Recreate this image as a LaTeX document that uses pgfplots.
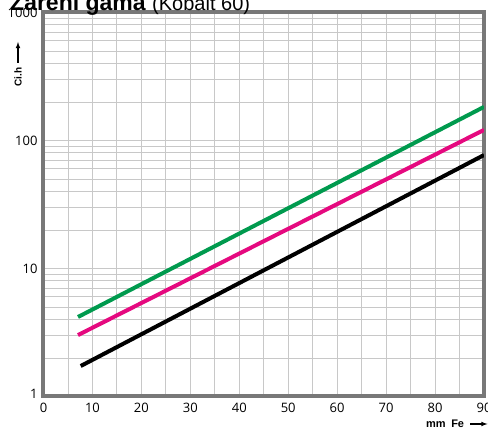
\documentclass[border=0pt]{standalone}
\usepackage{pgfplots}
\pgfplotsset{compat=1.18}
\usepackage{fontspec}
\setmainfont{Open Sans}
\newfontfamily\arial{Liberation Sans}
\definecolor{cgreen}{HTML}{009A4E}
\definecolor{cpink}{HTML}{E5097F}
\definecolor{frame}{HTML}{787878}
\definecolor{gridc}{HTML}{C8C8C8}
\begin{document}
\begin{tikzpicture}[x=1pt,y=1pt]
\begin{axis}[
    at={(0,0)}, anchor=south west,
    scale only axis, width=440.5pt, height=384pt,
    xmin=0, xmax=90,
    ymode=log, ymin=1, ymax=1000,
    xtick={0,10,20,30,40,50,60,70,80,90},
    minor xtick={5,15,25,35,45,55,65,75,85},
    ytick={1,10,100,1000},
    yticklabels={\raisebox{6pt}{1},10,100,\raisebox{-4.5pt}{1000}},
    minor ytick={2,3,4,5,6,7,8,9,20,30,40,50,60,70,80,90,200,300,400,500,600,700,800,900},
    grid=both,
    major grid style={draw=gridc, line width=0.9pt},
    minor grid style={draw=gridc, line width=0.9pt},
    major tick length=0pt, minor tick length=0pt,
    axis line style={draw=frame, line width=4pt},
    tick label style={font=\fontsize{13}{15}\selectfont},
    /pgf/number format/assume math mode=true,
    xticklabel style={yshift=-3pt},
    yticklabel style={xshift=-2.5pt},
]
\addplot[cgreen, line width=4pt] coordinates {(7.05,4.18) (90,183)};
\addplot[cpink, line width=4pt] coordinates {(7.05,3.02) (90,121)};
\addplot[black, line width=4pt] coordinates {(7.6,1.73) (90,77)};
\end{axis}
\node[anchor=base west, inner sep=0pt, font=\arial\fontsize{23}{26}\selectfont] at (-33.5,386) {\textbf{Záření gama} {\fontsize{20}{24}\selectfont(Kobalt 60)}};
\node[rotate=90, anchor=west, inner sep=0pt, font=\arial\bfseries\fontsize{10}{12}\selectfont] at (-25.5,310) {Ci.h};
\draw[-latex, line width=1.1pt] (-25.5,333.5) -- (-25.5,354.5);
\node[anchor=west, inner sep=0pt, font=\arial\bfseries\fontsize{11}{13}\selectfont] at (382.5,-27.5) {mm\enspace Fe};
\draw[-latex, line width=1.1pt] (426.5,-27.5) -- (444,-27.5);
\pgfresetboundingbox
\useasboundingbox (-43.5,-31.5) rectangle (444.5,396.5);
\end{tikzpicture}
\end{document}
